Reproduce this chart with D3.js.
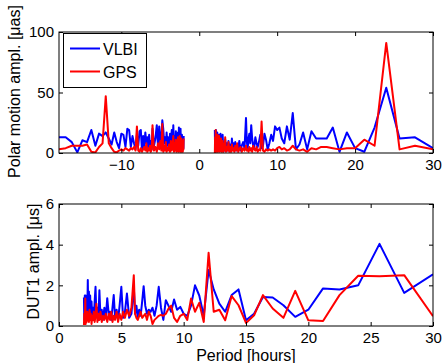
<!DOCTYPE html>
<html><head><meta charset="utf-8">
<script src="https://cdn.jsdelivr.net/npm/d3@7"></script>
<style>
html,body{margin:0;padding:0;background:#fff;}
svg{display:block;font-family:"Liberation Sans",Arial,Helvetica,sans-serif;}
</style></head>
<body>
<svg id="c" width="443" height="363"></svg>
<script>
// ---------- DATA ----------
// Positive periods (hours), ascending
const posPeriods = [2.00,2.03,2.07,2.11,2.14,2.18,2.22,2.27,2.31,2.35,2.40,2.45,2.50,2.55,2.61,2.67,2.73,2.79,2.86,2.93,3.00,3.08,3.16,3.24,3.33,3.43,3.53,3.64,3.75,3.87,
 4.00,4.09,4.19,4.29,4.39,4.50,4.62,4.74,4.86,5.00,5.14,5.29,5.45,5.63,5.81,
 6.00,6.10,6.21,6.32,6.43,6.55,6.67,6.79,6.92,7.06,7.20,7.35,7.50,7.66,7.83,8.00,8.18,8.37,8.57,8.78,9.00,9.23,9.47,9.73,10.00,10.29,10.59,10.91,11.25,11.61,12.00,12.41,12.86,13.33,13.85,14.40,15.00,15.65,16.36,17.14,18.00,18.95,20.00,21.18,22.50,24.00,25.71,27.69,30.00];
// Negative (retrograde) periods (hours), ascending
const negPeriods = [-18.00,-17.14,-16.36,-15.65,-15.00,-14.40,-13.85,-13.33,-12.86,-12.41,-12.00,-11.61,-11.25,-10.91,-10.59,-10.29,-10.00,-9.73,-9.47,-9.23,-9.00,-8.78,-8.57,-8.37,-8.18,-8.00,-7.83,-7.66,-7.50,-7.35,-7.20,-7.06,-6.92,-6.79,-6.67,-6.55,-6.43,-6.32,-6.21,-6.10,-6.00,
 -5.81,-5.63,-5.45,-5.29,-5.14,-5.00,-4.86,-4.74,-4.62,-4.50,-4.39,-4.29,-4.19,-4.09,-4.00,
 -3.87,-3.75,-3.64,-3.53,-3.43,-3.33,-3.24,-3.16,-3.08,-3.00,-2.93,-2.86,-2.79,-2.73,-2.67,-2.61,-2.55,-2.50,-2.45,-2.40,-2.35,-2.31,-2.27,-2.22,-2.18,-2.14,-2.11,-2.07,-2.03,-2.00];

// Polar motion amplitude [µas]
const pmVlbiNeg = [13,13,9,0.5,10.5,9,19,6,16,14,17,12,7,17,9,4,16,15,5,20,19,5,14,8,3,15,6,18,19,2,14,5,17,8,13,4,15,6,10,3,20,
 6,12,23,5,22,9,14,27,20,8,13,4,17,6,13,
 5,16,7,19,4,23,6,14,3,18,8,12,4,17,6,21,3,13,7,20,4,11,2,15,5,10,3,12,4,14];
const pmGpsNeg = [3,4,6,6,6,7,1,0.5,5,8,47,8,4,1,0.5,2,3,2,4,3,2,4,3,5,2,22,2,1,4,1,3,5,2,8,1,4,2,6,1,3,23,
 2,5,1,8,3,10,2,24,1,6,2,9,1,4,2,
 7,1,10,2,5,14,1,8,2,11,1,6,3,13,1,9,2,14,1,7,3,12,1,5,2,10,1,6,3,12];
const pmVlbiPos = [19,4,18,6,19,3,12,5,17,3,10,6,15,2,12,4,16,5,9,3,15,4,9,2,11,3,8,2,10,4,
 7,2,12,4,8,3,9,2,7,3,10,2,6,9,4,
 29,10,3,12,16,8,23,12,6,5,13,8,5,9,15,4,6,16,11,3,8,15,10,22,19,21,12,8,22,11,33,3,7,17,3,18,12,12,12,21,1,17,4,1,21,54,12,13,4];
const pmGpsPos = [0,13,1,19,2,14,1,9,3,15,1,10,2,14,1,8,2,12,1,6,10,1,7,2,13,1,5,2,9,1,
 5,1,7,2,4,1,6,2,8,1,3,5,1,4,2,
 6,2,3,1,5,2,4,1,6,3,2,5,1,3,2,26,2,1,3,2,3,2,3,2,4,5,3,4,2,3,6,3,2,3,1,4,3,5,5,4,3,4,4,11,6,91,3,6,3];

// DUT1 amplitude [µs]
const dutVlbi = [1.4,0.3,1.5,0.8,1.5,0.5,1.3,0.7,2.26,0.6,1.7,0.5,1.5,0.4,1.2,0.3,0.9,0.3,1.2,1.93,0.5,0.9,0.3,1.76,0.4,0.8,0.3,0.9,0.4,1.37,
 0.5,0.7,0.3,0.9,1.52,0.4,0.8,0.3,1.0,1.93,0.4,0.7,1.6,0.4,0.6,
 1.93,0.6,1.0,0.4,0.8,0.5,1.2,1.96,1.0,0.6,0.8,0.7,0.9,0.5,1.0,1.93,0.9,0.3,1.27,1.0,0.7,1.3,0.8,0.94,0.6,0.5,1.0,2.0,1.5,0.5,2.75,1.8,1.1,0.7,1.52,1.8,0.28,0.6,1.43,1.4,1.02,0.45,0.8,1.85,1.8,2.0,4.04,1.63,2.54];
const dutGps = [0.05,0.6,0.2,1.35,0.1,0.6,0.2,0.7,0.3,0.5,0.2,0.8,0.3,0.6,0.1,0.5,0.3,0.7,0.2,0.5,1.1,0.2,0.6,0.3,0.7,0.2,0.5,0.3,0.6,0.2,
 0.6,0.3,0.7,0.2,0.5,0.3,0.7,0.2,0.6,0.3,0.7,0.4,0.8,0.5,0.9,
 2.5,0.6,0.4,0.3,0.5,0.7,0.4,0.5,0.6,0.3,0.7,0.5,0.1,0.3,0.4,0.5,0.55,0.5,0.6,0.85,1.0,0.4,0.2,0.5,0.6,0.3,1.35,0.7,1.14,0.2,3.6,0.7,0.8,0.28,1.47,1.02,0.15,0.53,1.52,0.86,0.4,1.73,0.28,0.25,1.52,2.47,2.45,2.5,0.48];

const topXTicks = [-10,0,10,20,30];
const topYTicks = [0,50,100];
const botXTicks = [0,5,10,15,20,25,30];
const botYTicks = [0,2,4,6];
const legendLabels = ["VLBI","GPS"];
const seriesColors = ["#0000ff","#ff0000"];

// ---------- DRAW ----------
const svg = d3.select("#c");
const FS = 16, TFS = 15;
const L = 59, R = 433;

function panel(opts){
  const x = d3.scaleLinear().domain(opts.xd).range([L,R]);
  const y = d3.scaleLinear().domain(opts.yd).range([opts.bottom, opts.top]);
  const g = svg.append("g");
  const clipId = "clip"+opts.id;
  svg.append("clipPath").attr("id",clipId).append("rect")
    .attr("x",L).attr("y",opts.top).attr("width",R-L).attr("height",opts.bottom-opts.top);
  const line = d3.line().x(d=>x(d[0])).y(d=>y(d[1]));
  const lg = g.append("g").attr("clip-path",`url(#${clipId})`);
  opts.series.forEach(s=>{
    lg.append("path").attr("d",line(d3.zip(s.xs,s.ys)))
      .attr("fill","none").attr("stroke",s.color).attr("stroke-width",2)
      .attr("stroke-linejoin","round");
  });
  g.append("rect").attr("x",L).attr("y",opts.top).attr("width",R-L).attr("height",opts.bottom-opts.top)
    .attr("fill","none").attr("stroke","#000").attr("stroke-width",1);
  const tl = 4;
  const fmt = d => d<0 ? "\u2212"+Math.abs(d) : String(d);
  const ax = g.append("g").attr("transform",`translate(0,${opts.bottom})`)
    .call(d3.axisBottom(x).tickValues(opts.xt).tickSize(-tl).tickPadding(6).tickFormat(fmt));
  const axT = g.append("g").attr("transform",`translate(0,${opts.top})`)
    .call(d3.axisTop(x).tickValues(opts.xt).tickSize(-tl).tickFormat(""));
  const ay = g.append("g").attr("transform",`translate(${L},0)`)
    .call(d3.axisLeft(y).tickValues(opts.yt).tickSize(-tl).tickPadding(5).tickFormat(fmt));
  const ayR = g.append("g").attr("transform",`translate(${R},0)`)
    .call(d3.axisRight(y).tickValues(opts.yt).tickSize(-tl).tickFormat(""));
  [ax,axT,ay,ayR].forEach(a=>{
    a.select(".domain").remove();
    a.selectAll("line").attr("stroke","#000");
    a.selectAll("text").attr("fill","#000").style("font-size",TFS+"px").style("font-family","'Liberation Sans',Arial,sans-serif");
  });
  svg.append("text").attr("transform",`translate(${opts.ylx},${(opts.top+opts.bottom)/2 + opts.yloff}) rotate(-90)`)
    .attr("text-anchor","middle").style("font-size",FS+"px").text(opts.ylabel);
  return {x,y};
}

const topPanel = panel({id:1, xd:[-18,30], yd:[0,100], top:32, bottom:153, xt:topXTicks, yt:topYTicks,
  ylabel:"Polar motion ampl. [\u03bcas]", ylx:19.5, yloff:-1,
  series:[
    {xs:negPeriods, ys:pmVlbiNeg, color:seriesColors[0]},
    {xs:posPeriods, ys:pmVlbiPos, color:seriesColors[0]},
    {xs:negPeriods, ys:pmGpsNeg, color:seriesColors[1]},
    {xs:posPeriods, ys:pmGpsPos, color:seriesColors[1]}
  ]});

const botPanel = panel({id:2, xd:[0,30], yd:[0,6], top:204, bottom:326, xt:botXTicks, yt:botYTicks,
  ylabel:"DUT1 ampl. [\u03bcs]", ylx:38.5, yloff:-3.5,
  series:[
    {xs:posPeriods, ys:dutVlbi, color:seriesColors[0]},
    {xs:posPeriods, ys:dutGps, color:seriesColors[1]}
  ]});

svg.append("text").attr("x",(L+R)/2).attr("y",360.5).attr("text-anchor","middle")
  .style("font-size",FS+"px").text("Period [hours]");

const lgd = svg.append("g");
lgd.append("rect").attr("x",63.5).attr("y",33.5).attr("width",83).attr("height",54)
  .attr("fill","#fff").attr("stroke","#000").attr("stroke-width",1);
legendLabels.forEach((lab,i)=>{
  const yy = 48.5 + i*23;
  lgd.append("line").attr("x1",70).attr("x2",100).attr("y1",yy).attr("y2",yy)
    .attr("stroke",seriesColors[i]).attr("stroke-width",2);
  lgd.append("text").attr("x",103).attr("y",yy+6.5).style("font-size",FS+"px").text(lab);
});
</script>
</body></html>
